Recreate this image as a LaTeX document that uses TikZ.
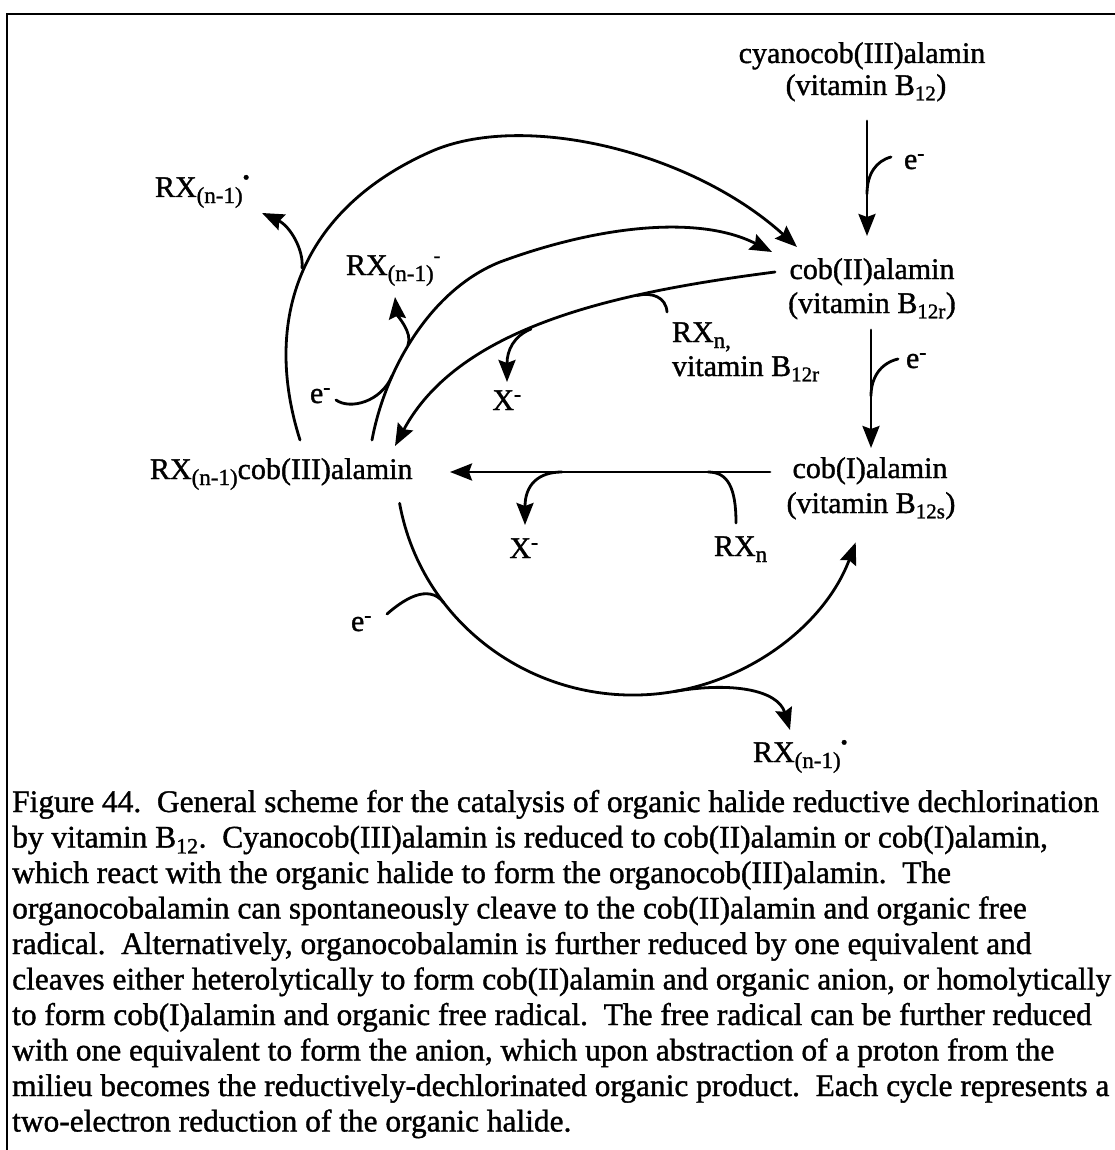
\documentclass[tikz,border=0pt]{standalone}
\usepackage{fontspec}
\setmainfont{Liberation Serif}[FakeBold=1.2]
\usetikzlibrary{arrows.meta}
\newcommand\loweridx[1]{\raisebox{-6pt}{\fontsize{23}{23}\selectfont #1}}
\newcommand\upperidx[1]{\raisebox{13pt}{\fontsize{20}{20}\selectfont #1}}
\begin{document}
\begin{tikzpicture}[x=1pt,y=-1pt,
  lbl/.style={font=\fontsize{30}{34}\selectfont, inner sep=0pt, outer sep=0pt},
  conn/.style={line width=2.8pt, line cap=round},
  arr/.style={conn, -{Stealth[length=22pt,width=17pt,inset=3pt]}},
  frameline/.style={line width=2.8pt}]
\useasboundingbox (0,0) rectangle (1115,1150);

% frame
\coordinate (fb) at (7,1150); \coordinate (ftl) at (7,14); \coordinate (ftr) at (1115,14);
\draw[frameline] (fb) -- (ftl) -- (ftr);

% labels
\node[lbl, anchor=base] (cyan) at (862,63) {cyanocob(III)alamin};
\node[lbl, anchor=base] (cyanv) at (866,95) {(vitamin B\textsubscript{12})};
\node[lbl, anchor=base] (cobII) at (872,279) {cob(II)alamin};
\node[lbl, anchor=base] (cobIIv) at (872,313) {(vitamin B\textsubscript{12r})};
\node[lbl, anchor=base] (cobI) at (870,478) {cob(I)alamin};
\node[lbl, anchor=base] (cobIv) at (871,513) {(vitamin B\textsubscript{12s})};
\node[lbl, anchor=base west] (org) at (150,479) {RX\loweridx{(n-1)}cob(III)alamin};
\node[lbl, anchor=base west] (radA) at (155,197) {RX\loweridx{(n-1)}\upperidx{•}};
\node[lbl, anchor=base west] (anion) at (346,275) {RX\loweridx{(n-1)}\upperidx{-}};
\node[lbl, anchor=base west] (rxnA) at (672,342) {RX\loweridx{n,}};
\node[lbl, anchor=base west] (vitr) at (672,376) {vitamin B\textsubscript{12r}};
\node[lbl, anchor=base] (xA) at (507,410) {X\textsuperscript{-}};
\node[lbl, anchor=base] (xB) at (524,558) {X\textsuperscript{-}};
\node[lbl, anchor=base west] (rxnB) at (714,556) {RX\loweridx{n}};
\node[lbl, anchor=base west] (eA) at (904,169) {e\textsuperscript{-}};
\node[lbl, anchor=base west] (eB) at (906,368) {e\textsuperscript{-}};
\node[lbl, anchor=base west] (eC) at (310,403) {e\textsuperscript{-}};
\node[lbl, anchor=base west] (eD) at (351,631) {e\textsuperscript{-}};
\node[lbl, anchor=base west] (radB) at (753,762) {RX\loweridx{(n-1)}\upperidx{•}};

% vertical reductions
\coordinate (v1s) at (867,121); \coordinate (v1e) at (867,236);
\draw[arr] (v1s) -- (v1e);
\coordinate (e1s) at (891,157); \coordinate (e1m) at (867,194);
\draw[conn] (e1s) .. controls (876,161) and (867,174) .. (e1m);
\coordinate (v2s) at (871,330); \coordinate (v2e) at (871,448);
\draw[arr] (v2s) -- (v2e);
\coordinate (e2s) at (898,359); \coordinate (e2m) at (871,396);
\draw[conn] (e2s) .. controls (881,363) and (871,377) .. (e2m);

% outer arc (spontaneous cleavage)
\coordinate (a0) at (300,440); \coordinate (a1) at (430,152); \coordinate (a2) at (797,247);
\draw[arr] (a0) .. controls (262,320) and (300,210) .. (a1) .. controls (521,111) and (690,150) .. (a2);
\coordinate (ab) at (302,268); \coordinate (abt) at (262,213);
\draw[arr] (ab) .. controls (304,250) and (290,226) .. (abt);

% second arc (heterolytic)
\coordinate (b0) at (372,440); \coordinate (b1) at (500,262); \coordinate (b2) at (772,252);
\draw[arr] (b0) .. controls (385,370) and (430,290) .. (b1) .. controls (600,225) and (700,215) .. (b2);
\coordinate (cs) at (336,400); \coordinate (cm) at (392,376);
\draw[conn] (cs) .. controls (350,410) and (381,402) .. (cm);
\coordinate (bb) at (408,345); \coordinate (bbt) at (395,297);
\draw[arr] (bb) .. controls (413,333) and (397,315) .. (bbt);

% third curve (cob(II) + RXn)
\coordinate (c0) at (775,272); \coordinate (c1) at (395,446);
\draw[arr] (c0) .. controls (620,292) and (460,325) .. (c1);
\coordinate (cx) at (531,329); \coordinate (cxt) at (507,382);
\draw[arr] (cx) .. controls (514,336) and (507,350) .. (cxt);
\coordinate (cr) at (667,312); \coordinate (crm) at (637,295.5);
\draw[conn] (cr) .. controls (666,297) and (652,292) .. (crm);

% horizontal (cob(I) + RXn)
\coordinate (d0) at (770,472); \coordinate (d1) at (450,472);
\draw[arr] (d0) -- (d1);
\coordinate (dx) at (562,472); \coordinate (dxt) at (525,525);
\draw[arr] (dx) .. controls (538,472) and (525,485) .. (dxt);
\coordinate (dr) at (708,472); \coordinate (dre) at (736,523);
\draw[conn] (dr) .. controls (728,472) and (736,488) .. (dre);

% lower arc (homolytic)
\coordinate (e0) at (399.6,503.3);
\draw[arr] (e0) arc[start angle=190, end angle=340, x radius=237pt, y radius=232pt];
\coordinate (ds) at (387,614); \coordinate (dm) at (443.7,602.6);
\draw[conn] (ds) .. controls (403,600) and (428,583) .. (dm);
\coordinate (er) at (674.2,691.5); \coordinate (ert) at (790,730);
\draw[arr] (er) .. controls (732,681.5) and (778,690) .. (ert);

% caption (anchor at the last line's baseline)
\node[anchor=base west, align=left, inner sep=0pt, font=\fontsize{31.4}{35.5}\selectfont] (cap) at (12,1131.5) {%
Figure 44.\ \ General scheme for the catalysis of organic halide reductive dechlorination\\
by vitamin B\textsubscript{12}.\ \ Cyanocob(III)alamin is reduced to cob(II)alamin or cob(I)alamin,\\
which react with the organic halide to form the organocob(III)alamin.\ \ The\\
organocobalamin can spontaneously cleave to the cob(II)alamin and organic free\\
radical.\ \ Alternatively, organocobalamin is further reduced by one equivalent and\\
cleaves either heterolytically to form cob(II)alamin and organic anion, or homolytically\\
to form cob(I)alamin and organic free radical.\ \ The free radical can be further reduced\\
with one equivalent to form the anion, which upon abstraction of a proton from the\\
milieu becomes the reductively-dechlorinated organic product.\ \ Each cycle represents a\\
two-electron reduction of the organic halide.};
\end{tikzpicture}
\end{document}
